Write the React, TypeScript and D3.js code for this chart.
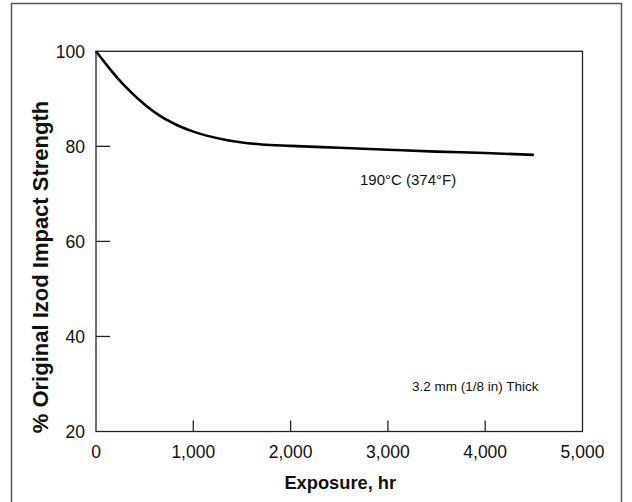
import React from "react";
import * as d3 from "d3";

const hours = [0, 150, 300, 500, 650, 830, 1000, 1350, 1700, 2000, 2500, 3000, 3500, 4000, 4500];
const strength = [100, 96.1, 92.6, 88.8, 86.5, 84.5, 83.1, 81.3, 80.4, 80.1, 79.7, 79.3, 78.9, 78.6, 78.2];
const xTicks = [0, 1000, 2000, 3000, 4000, 5000];
const yTicks = [20, 40, 60, 80, 100];
const curveLabel = "190°C (374°F)";
const noteLabel = "3.2 mm (1/8 in) Thick";
const xTitle = "Exposure, hr";
const yTitle = "% Original Izod Impact Strength";

export default function App() {
  const W = 632, H = 502;
  const left = 96, right = 582.5, top = 51.3, bottom = 431.5;
  const x = d3.scaleLinear().domain([0, 5000]).range([left, right]);
  const y = d3.scaleLinear().domain([20, 100]).range([bottom, top]);
  const line = d3.line<number>().x((d, i) => x(hours[i])).y((d) => y(d)).curve(d3.curveMonotoneX);
  const fmt = d3.format(",");
  const font = "'Liberation Sans', Arial, sans-serif";
  return (
    <svg width={W} height={H} style={{ position: "absolute", left: 0, top: 0 }} fontFamily={font}>
      <rect x={0} y={0} width={W} height={H} fill="#fff" />
      <rect x={11.5} y={3.5} width={610} height={510} fill="none" stroke="#555" strokeWidth={1.5} />
      <rect x={left} y={top} width={right - left} height={bottom - top} fill="none" stroke="#222" strokeWidth={1.3} />
      {xTicks.slice(1, -1).map((t) => (
        <line key={"xt" + t} x1={x(t)} x2={x(t)} y1={bottom} y2={bottom - 11} stroke="#222" strokeWidth={1.3} />
      ))}
      {yTicks.slice(1, -1).map((t) => (
        <line key={"yt" + t} x1={left} x2={left + 14} y1={y(t)} y2={y(t)} stroke="#222" strokeWidth={1.3} />
      ))}
      {xTicks.map((t) => (
        <text key={"xl" + t} x={x(t)} y={458} textAnchor="middle" fontSize={17.5} fill="#111">
          {fmt(t)}
        </text>
      ))}
      {yTicks.map((t) => (
        <text key={"yl" + t} x={85} y={y(t) + 6.3} textAnchor="end" fontSize={17.5} fill="#111">
          {t}
        </text>
      ))}
      <path d={line(strength) || ""} fill="none" stroke="#000" strokeWidth={2.6} />
      <text x={360} y={184.5} fontSize={15} fill="#111">{curveLabel}</text>
      <text x={412} y={391} fontSize={13.5} fill="#111">{noteLabel}</text>
      <text x={(left + right) / 2 + 1} y={488.5} textAnchor="middle" fontSize={18.3} fontWeight="bold" fill="#111">
        {xTitle}
      </text>
      <text
        transform={`translate(47.5,267) rotate(-90)`}
        textAnchor="middle"
        fontSize={22}
        fontWeight="bold"
        fill="#111"
      >
        {yTitle}
      </text>
    </svg>
  );
}
